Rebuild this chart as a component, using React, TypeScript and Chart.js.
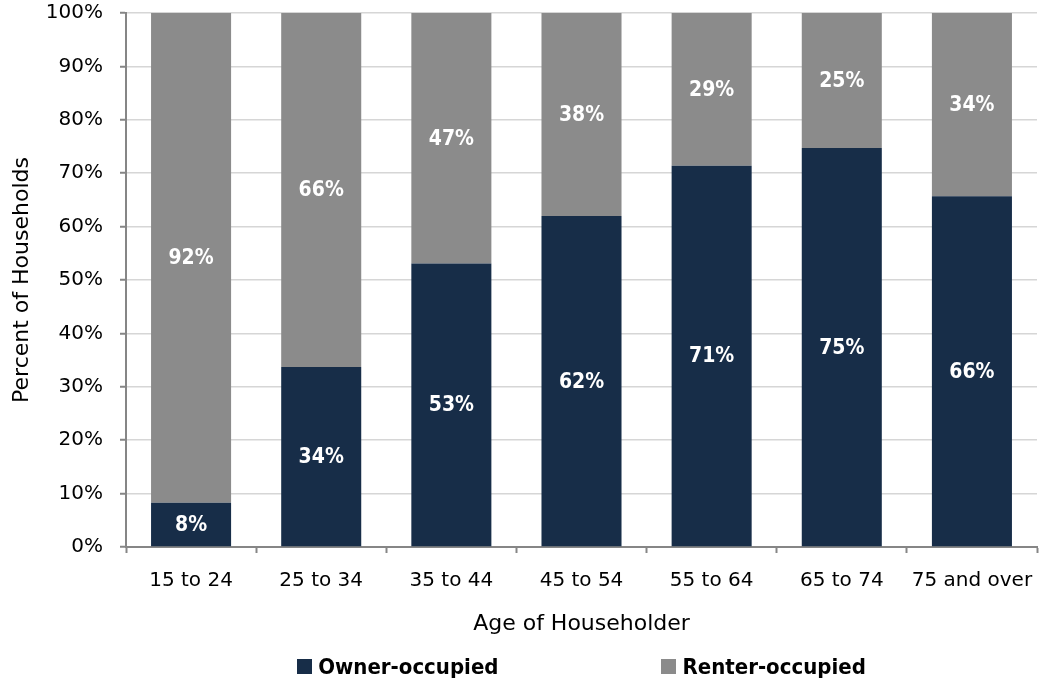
import React, { useEffect, useRef } from "react";
import { Chart, registerables } from "chart.js";

Chart.register(...registerables);

const categories = ["15 to 24", "25 to 34", "35 to 44", "45 to 54", "55 to 64", "65 to 74", "75 and over"];
const ownerOccupied = [8.3, 33.7, 53.1, 62.0, 71.4, 74.7, 65.7];
const renterOccupied = [91.7, 66.3, 46.9, 38.0, 28.6, 25.3, 34.3];
const seriesNames = ["Owner-occupied", "Renter-occupied"];
const yTicks = [0, 10, 20, 30, 40, 50, 60, 70, 80, 90, 100];

const NAVY = "#172d48";
const GRAY = "#8b8b8b";
const AXIS = "#868686";
const GRID = "#d6d6d6";
const REG = "'DejaVu Sans', 'Liberation Sans', sans-serif";
const BOLD = "'DejaVu Sans Condensed', 'DejaVu Sans', sans-serif";

const labelPlugin = {
  id: "segLabels",
  afterDatasetsDraw(chart: any) {
    const ctx = chart.ctx;
    ctx.save();
    ctx.fillStyle = "#ffffff";
    ctx.font = `bold 21px ${BOLD}`;
    ctx.textAlign = "center";
    ctx.textBaseline = "middle";
    chart.data.datasets.forEach((ds: any, di: number) => {
      const meta = chart.getDatasetMeta(di);
      meta.data.forEach((bar: any, i: number) => {
        const p = bar.getProps(["x", "y", "base"], true);
        const v = ds.data[i];
        ctx.fillText(Math.round(v) + "%", p.x, (p.y + p.base) / 2 + 1);
      });
    });
    ctx.restore();
  },
};

const legendPlugin = {
  id: "customLegend",
  afterDraw(chart: any) {
    const ctx = chart.ctx;
    const area = chart.chartArea;
    ctx.save();
    ctx.font = `bold 22px ${BOLD}`;
    ctx.textBaseline = "middle";
    ctx.textAlign = "left";
    const box = 15;
    const gap = 6;
    const itemGap = 163;
    const ds = chart.data.datasets;
    const widths = ds.map((d: any) => box + gap + ctx.measureText(d.label).width);
    const total = widths.reduce((a: number, b: number) => a + b, 0) + itemGap * (ds.length - 1);
    let x = (area.left + area.right) / 2 - total / 2;
    const cy = 667;
    ds.forEach((d: any, i: number) => {
      ctx.fillStyle = d.backgroundColor;
      ctx.fillRect(Math.round(x), cy - 8, box, box);
      ctx.fillStyle = "#000000";
      ctx.fillText(d.label, x + box + gap, cy + 1);
      x += widths[i] + itemGap;
    });
    ctx.restore();
  },
};

export default function App() {
  const ref = useRef<HTMLCanvasElement | null>(null);
  useEffect(() => {
    if (!ref.current) return;
    const chart = new Chart(ref.current, {
      type: "bar",
      data: {
        labels: categories,
        datasets: [
          { label: seriesNames[0], data: ownerOccupied, backgroundColor: NAVY, barPercentage: 0.615, categoryPercentage: 1 },
          { label: seriesNames[1], data: renterOccupied, backgroundColor: GRAY, barPercentage: 0.615, categoryPercentage: 1 },
        ],
      },
      options: {
        animation: false,
        responsive: true,
        maintainAspectRatio: false,
        layout: { padding: { left: 0, top: 13, right: 15, bottom: 50 } },
        plugins: { legend: { display: false }, tooltip: { enabled: false } },
        scales: {
          x: {
            stacked: true,
            offset: true,
            grid: { offset: true, drawOnChartArea: false, drawTicks: true, tickLength: 6, tickColor: AXIS, tickWidth: 2 },
            border: { color: AXIS, width: 2 },
            ticks: { color: "#000", font: { family: REG, size: 20 }, padding: 16, maxRotation: 0 },
            title: { display: true, text: "Age of Householder", color: "#000", font: { family: REG, size: 22 }, padding: { top: 4, bottom: 0 } },
            afterFit: (s: any) => { s.height = 90; },
          },
          y: {
            stacked: true,
            min: 0,
            max: 100,
            afterBuildTicks: (s: any) => { s.ticks = yTicks.map((v) => ({ value: v })); },
            grid: { color: GRID, lineWidth: 1.5, tickLength: 6, tickColor: AXIS, tickWidth: 2 },
            border: { color: AXIS, width: 2 },
            ticks: { color: "#000", font: { family: REG, size: 20 }, padding: 17, callback: (v: any) => v + "%" },
            title: { display: true, text: "Percent of Households", color: "#000", font: { family: REG, size: 22 }, padding: { top: 9, bottom: 0 } },
            afterFit: (s: any) => { s.width = 126; s.paddingTop = 0; s.paddingBottom = 0; },
          },
        },
      },
      plugins: [labelPlugin, legendPlugin],
    });
    return () => chart.destroy();
  }, []);
  return (
    <div style={{ position: "absolute", left: 0, top: 0, width: 1052, height: 687 }}>
      <canvas ref={ref} />
    </div>
  );
}
